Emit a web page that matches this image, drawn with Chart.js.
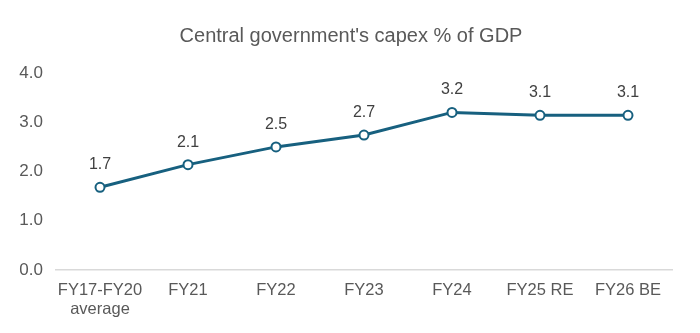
<!DOCTYPE html>
<html lang="en">
<head>
  <meta charset="UTF-8" />
  <title>Central government capex</title>
  <script src="https://cdn.jsdelivr.net/npm/chart.js"></script>
  <style>
    body {
      margin: 0;
      background: #fff;
    }
    .wrap {
      width: 700px;
      height: 333px;
      position: relative;
    }
  </style>
</head>
<body>
  <div class="wrap">
    <canvas id="capexChart"></canvas>
  </div>

  <script>
    // Capex as % of GDP by fiscal year
    const years = [["FY17-FY20", "average"], "FY21", "FY22", "FY23", "FY24", "FY25 RE", "FY26 BE"];
    const capexPct = [1.68, 2.14, 2.5, 2.74, 3.2, 3.14, 3.14];
    const yTicks = [0, 1, 2, 3, 4];
    const chartTitle = "Central government's capex % of GDP";

    const LINE_COLOR = "#17607f";
    const FONT = "'Liberation Sans', Arial, sans-serif";

    // Title across the whole canvas plus the value above each point
    const textLayer = {
      id: "textLayer",
      afterDatasetsDraw(chart) {
        const ctx = chart.ctx;
        ctx.save();
        ctx.textAlign = "center";

        ctx.font = "20px " + FONT;
        ctx.fillStyle = "#595959";
        ctx.textBaseline = "middle";
        ctx.fillText(chartTitle, chart.width / 2 + 1, 36);

        ctx.font = "16px " + FONT;
        ctx.fillStyle = "#404040";
        ctx.textBaseline = "alphabetic";
        chart.getDatasetMeta(0).data.forEach((pt, i) => {
          ctx.fillText(capexPct[i].toFixed(1), pt.x, pt.y - 18);
        });
        ctx.restore();
      }
    };

    const ctx = document.getElementById("capexChart").getContext("2d");
    new Chart(ctx, {
      type: "line",
      data: {
        labels: years,
        datasets: [{
          data: capexPct,
          borderColor: LINE_COLOR,
          borderWidth: 3,
          pointRadius: 4.5,
          pointBorderWidth: 2,
          pointBackgroundColor: "#fff",
          pointBorderColor: LINE_COLOR,
          tension: 0
        }]
      },
      options: {
        responsive: true,
        maintainAspectRatio: false,
        animation: false,
        layout: {
          padding: { left: 10, right: 28, top: 73, bottom: 11 }
        },
        plugins: {
          legend: { display: false },
          tooltip: { enabled: false },
          title: { display: false }
        },
        scales: {
          x: {
            offset: true,
            grid: { display: false },
            border: { display: true, color: "#d9d9d9", width: 1.5 },
            ticks: {
              color: "#595959",
              font: { family: FONT, size: 16.5, lineHeight: 1.15 },
              padding: 3,
              maxRotation: 0,
              autoSkip: false
            }
          },
          y: {
            min: 0,
            max: 4,
            afterFit(scale) { scale.width = 46; },
            afterBuildTicks(scale) {
              scale.ticks = yTicks.map(v => ({ value: v }));
            },
            grid: { display: false },
            border: { display: false },
            ticks: {
              color: "#595959",
              font: { family: FONT, size: 17 },
              padding: 5,
              callback: v => v.toFixed(1)
            }
          }
        }
      },
      plugins: [textLayer]
    });
  </script>
</body>
</html>
